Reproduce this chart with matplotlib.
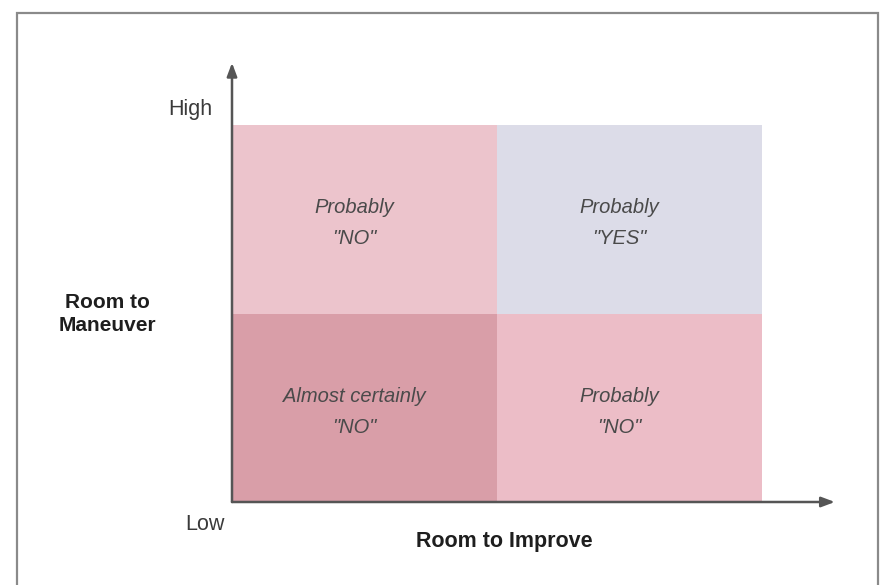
import matplotlib.pyplot as plt
from matplotlib.patches import Rectangle

plt.rcParams['font.family'] = ['Liberation Sans', 'DejaVu Sans']

# Квадранти: нижній лівий кут (x, y) по осях "Room to Improve" / "Room to Maneuver"
quad_x = [0, 1, 0, 1]
quad_y = [1, 1, 0, 0]
quad_labels = ['Probably\n"NO"', 'Probably\n"YES"',
               'Almost certainly\n"NO"', 'Probably\n"NO"']
quad_colors = ['#ecc4cc', '#dcdce8', '#d99ea8', '#ecbdc7']

y_ticks = ['Low', 'High']
x_title = 'Room to Improve'
y_title = 'Room to\nManeuver'

fig = plt.figure(figsize=(8.82, 5.85), dpi=100)

# рамка навколо малюнка
fig.add_artist(Rectangle((17 / 882, -0.02), (878 - 17) / 882, 1 - 13 / 585 + 0.02,
                         transform=fig.transFigure, fill=False,
                         edgecolor='#8a8a8a', linewidth=1.6))

ax = fig.add_axes([232 / 882, 1 - 502 / 585, (762 - 232) / 882, (502 - 125) / 585])
ax.bar(quad_x, [1] * 4, width=1, bottom=quad_y, align='edge',
       color=quad_colors, linewidth=0)

for x, y, lab in zip(quad_x, quad_y, quad_labels):
    ax.text(x + 0.46, y + 0.48, lab, ha='center', va='center', style='italic',
            fontsize=14.5, color='#4a4a4a', linespacing=1.8)

ax.set_xlim(0, 2)
ax.set_ylim(0, 2)
ax.axis('off')

# осі зі стрілками
arrow = dict(arrowstyle='-|>,head_length=0.8,head_width=0.3', color='#555555',
             linewidth=1.8, shrinkA=0, shrinkB=0)
ax.annotate('', xy=(0, 2.33), xytext=(0, 0), arrowprops=arrow, annotation_clip=False)
ax.annotate('', xy=(2.275, 0), xytext=(0, 0), arrowprops=arrow, annotation_clip=False)

ax.text(-0.158, 2.08, y_ticks[1], ha='center', va='center', fontsize=15.5,
        color='#3a3a3a', clip_on=False)
ax.text(-0.102, -0.122, y_ticks[0], ha='center', va='center', fontsize=15.5,
        color='#3a3a3a', clip_on=False)

fig.text(504 / 882, 1 - 541 / 585, x_title, ha='center', va='center',
         fontsize=15.5, fontweight='bold', color='#1e1e1e')
fig.text(107 / 882, 1 - 314 / 585, y_title, ha='center', va='center',
         fontsize=15, fontweight='bold', color='#1e1e1e', linespacing=1.25)

fig.savefig('out.png', dpi=100, facecolor='white')
